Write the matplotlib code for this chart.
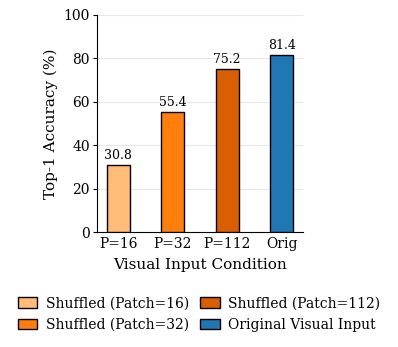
import matplotlib
matplotlib.use("Agg")
import matplotlib.pyplot as plt

categories = ["P=16", "P=32", "P=112", "Orig"]
values = [30.8, 55.4, 75.2, 81.4]
legend_labels = ["Shuffled (Patch=16)", "Shuffled (Patch=32)", "Shuffled (Patch=112)", "Original Visual Input"]
colors = ["#ffbb78", "#ff7f0e", "#d95f02", "#1f77b4"]

plt.rcParams['font.family'] = 'DejaVu Serif'

fig = plt.figure(figsize=(3.98, 3.47), dpi=100)
ax = fig.add_axes([97/398, 1-232/347, (303-97)/398, (232-15)/347])

x = list(range(len(categories)))
bars = ax.bar(x, values, width=0.42, color=colors, edgecolor="black", linewidth=1.0,
              label=legend_labels, zorder=3)
for b, v in zip(bars, values):
    ax.text(b.get_x() + b.get_width()/2, v + 1.5, f"{v}", ha="center", va="bottom", fontsize=9)

ax.set_xticks(x)
ax.set_xticklabels(categories, fontsize=10)
ax.set_ylim(0, 100)
ax.set_xlim(-0.39, 3.39)
ax.set_yticks([0, 20, 40, 60, 80, 100])
ax.tick_params(axis='y', labelsize=10, length=3, pad=2)
ax.tick_params(axis='x', length=0, pad=3.5)
ax.set_xlabel("Visual Input Condition", fontsize=11, labelpad=5)
ax.set_ylabel("Top-1 Accuracy (%)", fontsize=11)
ax.spines['top'].set_visible(False)
ax.spines['right'].set_visible(False)
ax.yaxis.grid(True, color="#e8e8e8", linewidth=0.8, zorder=0)
ax.set_axisbelow(True)

handles = list(bars)
fig.legend(handles, legend_labels, loc="upper center", bbox_to_anchor=(0.5, 0.162), ncol=2,
           frameon=False, fontsize=10, handlelength=1.4, handleheight=0.8,
           columnspacing=0.8, handletextpad=0.6, labelspacing=0.55, borderaxespad=0)

fig.savefig("out.png", dpi=100)
